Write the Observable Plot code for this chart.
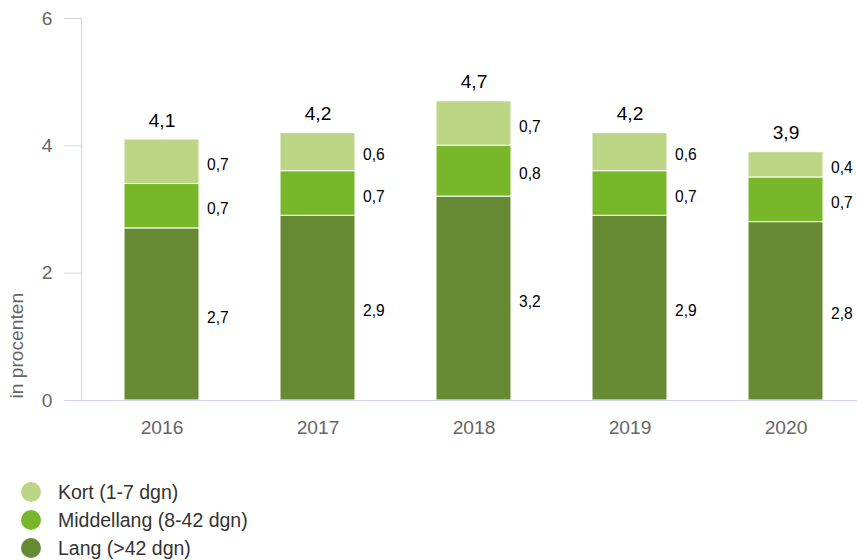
<!DOCTYPE html>
<html><head><meta charset="utf-8">
<script src="https://cdn.jsdelivr.net/npm/d3@7"></script>
<script src="https://cdn.jsdelivr.net/npm/@observablehq/plot@0.6"></script>
<style>
body{margin:0;background:#fff;font-family:"Liberation Sans",Arial,sans-serif;}
#chart svg{overflow:visible;display:block;}
#legend{margin-top:28px;}
.row{display:flex;align-items:center;height:28px;}
.sw{width:20px;height:20px;border-radius:50%;margin-left:21px;margin-right:17px;}
.lbl{font-size:19.5px;color:#333;}
</style></head><body><div id="chart"></div><div id="legend"></div>
<script>
const years = ["2016","2017","2018","2019","2020"];
const categories = ["Kort (1-7 dgn)","Middellang (8-42 dgn)","Lang (>42 dgn)"];
const kort = [0.7,0.6,0.7,0.6,0.4];
const middellang = [0.7,0.7,0.8,0.7,0.7];
const lang = [2.7,2.9,3.2,2.9,2.8];
const totals = [4.1,4.2,4.7,4.2,3.9];
const colors = ["#bdd685","#78b72a","#668933"];
const yTicks = [0,2,4,6];
const yLabel = "in procenten";

const series = [kort, middellang, lang];
const rows = [];
years.forEach((y,i)=>{ categories.forEach((c,j)=>{ rows.push({year:y, cat:c, value:series[j][i]}); }); });
const totalRows = years.map((y,i)=>({year:y, total:totals[i]}));
const stackOrder = [categories[2], categories[1], categories[0]];
const fmt = v => v.toFixed(1).replace(".", ",");

const plot = Plot.plot({
  width:857, height:450, marginTop:18, marginBottom:50, marginLeft:81, marginRight:0,
  style:{fontFamily:'"Liberation Sans",Arial,sans-serif', fontSize:"19.2px", color:"#666", background:"white", overflow:"visible"},
  x:{domain:years, range:[82.25,864.75], paddingInner:0.52, paddingOuter:0.26, align:0.5, label:null, axis:null},
  y:{domain:[0,6], axis:null},
  color:{domain:categories, range:colors},
  marks:[
    Plot.frame({anchor:"left", stroke:"#ccd6eb"}),
    Plot.axisY({ticks:yTicks, tickSize:17, tickPadding:12, stroke:"#ccd6eb", fill:"#666", tickFormat:d=>String(d), label:null}),
    Plot.text([yLabel], {frameAnchor:"bottom-left", text:d=>d, rotate:-90, textAnchor:"start", lineAnchor:"middle", dx:-65, dy:-2, fill:"#666", fontSize:19.2}),
    Plot.axisX({tickSize:0, tickPadding:20, fill:"#666", label:null}),
    Plot.barY(rows, Plot.stackY({x:"year", y:"value", z:"cat", fill:"cat", order:stackOrder, stroke:"white", strokeWidth:1})),
    Plot.text(rows, Plot.stackY({x:"year", y:"value", z:"cat", order:stackOrder, text:d=>fmt(d.value), dx:45, dy:3, textAnchor:"start", fill:"black", fontSize:15.6})),
    Plot.text(totalRows, {x:"year", y:"total", text:d=>fmt(d.total), dy:-19, fill:"black", fontSize:19.2}),
    Plot.ruleY([0], {stroke:"#ccd6eb"})
  ]
});
document.getElementById("chart").appendChild(plot);

const legend = document.getElementById("legend");
categories.forEach((c,i)=>{
  const r = document.createElement("div"); r.className="row";
  const s = document.createElement("div"); s.className="sw"; s.style.background=colors[i];
  const t = document.createElement("span"); t.className="lbl"; t.textContent=c;
  r.appendChild(s); r.appendChild(t); legend.appendChild(r);
});
</script></body></html>
